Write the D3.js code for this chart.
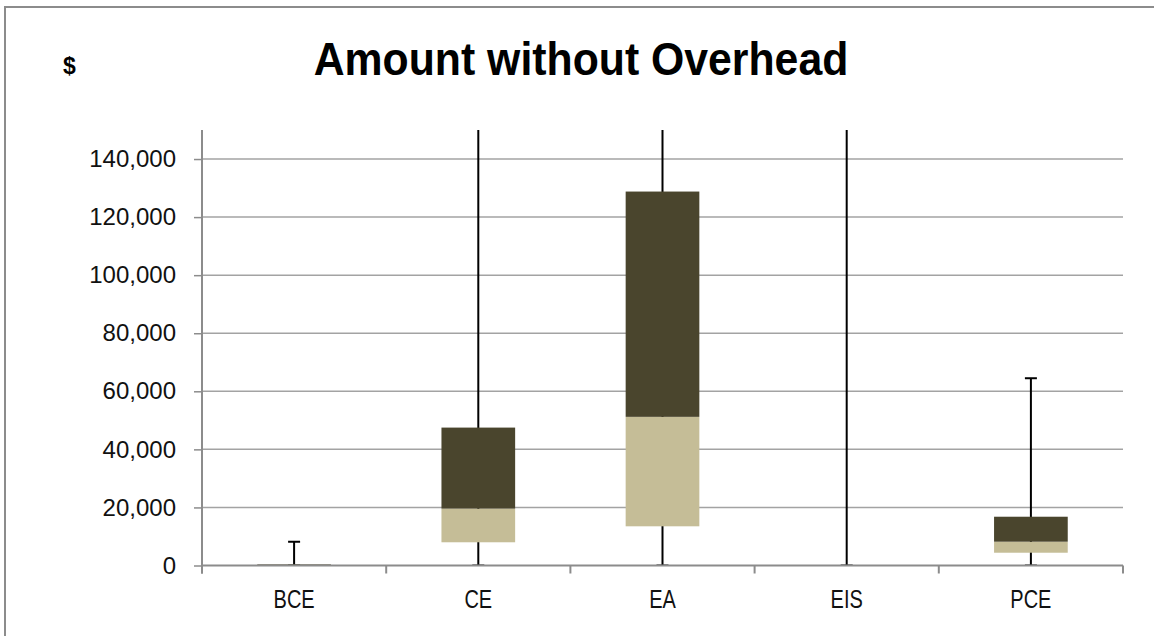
<!DOCTYPE html>
<html>
<head>
<meta charset="utf-8">
<script src="https://cdn.jsdelivr.net/npm/d3@7"></script>
<style>
  body { margin: 0; background: #fff; }
  svg { display: block; }
</style>
</head>
<body>
<div id="chart"></div>
<script>
// data
const categories = ["BCE", "CE", "EA", "EIS", "PCE"];
const whiskerLow = [0, 0, 0, 0, 0];
const lowerBox = [0, 8000, 13500, 0, 4400];      // light part starts here
const middle = [200, 19600, 51200, 0, 8200];     // light / dark boundary
const upperBox = [400, 47500, 128800, 0, 16800]; // dark part ends here
const whiskerHigh = [8200, 400000, 400000, 400000, 64500];
const yTicks = [0, 20000, 40000, 60000, 80000, 100000, 120000, 140000];

const rows = categories.map((c, i) => ({
    cat: c, lo: whiskerLow[i], q1: lowerBox[i], med: middle[i], q3: upperBox[i], hi: whiskerHigh[i]
}));

const W = 1154, H = 636;
const plot = { left: 202, right: 1123, top: 130, bottom: 565.5 };

const svg = d3.select("#chart").append("svg")
    .attr("width", W)
    .attr("height", H);

// outer frame (runs past the window on the right and bottom)
svg.append("rect")
    .attr("x", 5).attr("y", 7)
    .attr("width", 1200).attr("height", 700)
    .attr("fill", "none")
    .attr("stroke", "#8c8c8c")
    .attr("stroke-width", 2);

let x = d3.scaleBand().domain(categories).range([plot.left, plot.right]).padding(0);
let y = d3.scaleLinear().domain([0, 150000]).range([plot.bottom, plot.top]);

// gridlines
svg.append("g")
    .selectAll("line")
    .data(yTicks.filter(d => d > 0))
    .enter()
    .append("line")
    .attr("x1", plot.left).attr("x2", plot.right)
    .attr("y1", d => y(d)).attr("y2", d => y(d))
    .attr("stroke", "#a3a3a3")
    .attr("stroke-width", 1.5);

svg.append("defs").append("clipPath").attr("id", "plotClip")
    .append("rect")
    .attr("x", plot.left).attr("y", plot.top)
    .attr("width", plot.right - plot.left).attr("height", plot.bottom - plot.top);

const marks = svg.append("g").attr("clip-path", "url(#plotClip)");
const boxW = x.bandwidth() * 0.4;
const capW = 12;
const cx = d => x(d.cat) + x.bandwidth() / 2;

// whiskers
marks.selectAll(".whisker")
    .data(rows)
    .enter()
    .append("line")
    .attr("x1", cx).attr("x2", cx)
    .attr("y1", d => y(d.lo)).attr("y2", d => y(d.hi))
    .attr("stroke", "#000")
    .attr("stroke-width", 2);

// caps
marks.selectAll(".cap")
    .data(rows.flatMap(d => [{ cat: d.cat, v: d.lo }, { cat: d.cat, v: d.hi }]))
    .enter()
    .append("line")
    .attr("x1", d => cx(d) - capW / 2).attr("x2", d => cx(d) + capW / 2)
    .attr("y1", d => y(d.v)).attr("y2", d => y(d.v))
    .attr("stroke", "#000")
    .attr("stroke-width", 2);

// lower box part
marks.selectAll(".lowBox")
    .data(rows)
    .enter()
    .append("rect")
    .attr("x", d => cx(d) - boxW / 2)
    .attr("width", boxW)
    .attr("y", d => y(d.med))
    .attr("height", d => y(d.q1) - y(d.med))
    .attr("fill", "#c5bd97");

// upper box part
marks.selectAll(".highBox")
    .data(rows)
    .enter()
    .append("rect")
    .attr("x", d => cx(d) - boxW / 2)
    .attr("width", boxW)
    .attr("y", d => y(d.q3))
    .attr("height", d => y(d.med) - y(d.q3))
    .attr("fill", "#4a452d");

// y axis
let yAxis = svg.append("g")
    .attr("transform", "translate(" + plot.left + ",0)")
    .call(d3.axisLeft(y).tickValues(yTicks).tickSize(8).tickPadding(18).tickFormat(d3.format(",")));
yAxis.select(".domain").remove();
yAxis.selectAll(".tick line").attr("stroke", "#8c8c8c").attr("stroke-width", 1.5);
yAxis.selectAll("text")
    .attr("fill", "#111")
    .style("font-family", "'Liberation Sans', Arial, sans-serif")
    .style("font-size", "24px");
svg.append("line")
    .attr("x1", plot.left).attr("x2", plot.left)
    .attr("y1", plot.top).attr("y2", plot.bottom + 8)
    .attr("stroke", "#8c8c8c").attr("stroke-width", 2);

// x axis
svg.append("line")
    .attr("x1", plot.left).attr("x2", plot.right)
    .attr("y1", plot.bottom).attr("y2", plot.bottom)
    .attr("stroke", "#8c8c8c").attr("stroke-width", 2);
svg.append("g")
    .selectAll("line")
    .data(categories.concat(["end"]))
    .enter()
    .append("line")
    .attr("x1", (d, i) => plot.left + i * x.step())
    .attr("x2", (d, i) => plot.left + i * x.step())
    .attr("y1", plot.bottom).attr("y2", plot.bottom + 8)
    .attr("stroke", "#8c8c8c").attr("stroke-width", 2);

// category labels, squeezed to look like the narrow face in the original
svg.append("g")
    .selectAll("text")
    .data(categories)
    .enter()
    .append("text")
    .attr("transform", d => "translate(" + (x(d) + x.bandwidth() / 2) + ",608) scale(0.8,1)")
    .attr("text-anchor", "middle")
    .style("font-family", "'Liberation Sans', Arial, sans-serif")
    .style("font-size", "25px")
    .attr("fill", "#111")
    .text(d => d);

// title and unit
svg.append("text")
    .attr("transform", "translate(581,75) scale(0.93,1)")
    .attr("text-anchor", "middle")
    .style("font-family", "'Liberation Sans', Arial, sans-serif")
    .style("font-weight", "bold")
    .style("font-size", "46px")
    .text("Amount without Overhead");

svg.append("text")
    .attr("x", 63)
    .attr("y", 74)
    .style("font-family", "'Liberation Sans', Arial, sans-serif")
    .style("font-weight", "bold")
    .style("font-size", "23px")
    .text("$");
</script>
</body>
</html>
